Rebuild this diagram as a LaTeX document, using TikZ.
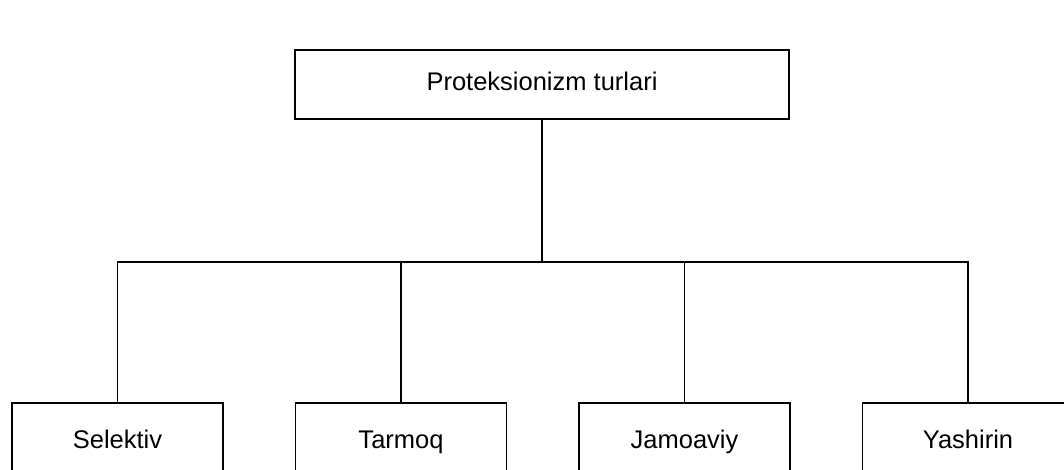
\documentclass[tikz,border=0pt]{standalone}
\usepackage{fontspec}
\setmainfont{Liberation Sans}
\usetikzlibrary{positioning}

\begin{document}
\begin{tikzpicture}[x=1pt,y=1pt,node distance=283.5pt,
	line width=1.6pt,
	head node/.style={rectangle,draw,minimum width=494pt,minimum height=69pt,
		text height=18pt,text depth=6pt,
		font=\fontsize{25.5}{30}\selectfont},
	kind node/.style={rectangle,draw,minimum width=211pt,minimum height=78pt,
		text height=18pt,text depth=6pt,
		font=\fontsize{25.5}{30}\selectfont}]
	
	\useasboundingbox (0,0) rectangle (1064,469);
	\clip (0,0) rectangle (1064,469);
	
	\node[head node] (top) at (542,384.5) {Proteksionizm turlari};
	\node[kind node] (sel) at (117.5,27) {Selektiv};
	\node[kind node] (tar) [right of=sel] {Tarmoq};
	\node[kind node] (jam) [right of=tar] {Jamoaviy};
	\node[kind node] (yas) [right of=jam] {Yashirin};
	
	\coordinate (hub) at (542,207);
	
	\draw (top) -- (hub);
	\draw (sel.north) |- (hub) -| (yas.north);
	\draw (tar.north) -- (tar.north |- hub);
	\draw (jam.north) -- (jam.north |- hub);
\end{tikzpicture}
\end{document}
